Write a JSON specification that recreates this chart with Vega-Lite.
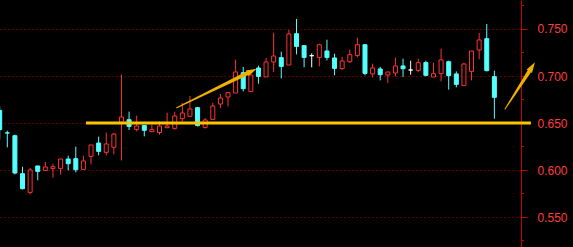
{
  "$schema": "https://vega.github.io/schema/vega-lite/v6.json",
  "width": 521,
  "height": 247,
  "autosize": {"type": "none"},
  "padding": {"left": 0, "top": 0, "right": 52, "bottom": 0},
  "background": "#000000",
  "config": {"view": {"stroke": null}},
  "datasets": {
    "candles": [
      {"i":0,"o":0.6634,"h":0.6677,"l":0.6323,"c":0.6429},
      {"i":1,"o":0.6395,"h":0.6418,"l":0.6241,"c":0.6393},
      {"i":2,"o":0.6365,"h":0.6376,"l":0.5953,"c":0.5968},
      {"i":3,"o":0.5961,"h":0.6035,"l":0.5794,"c":0.5801},
      {"i":4,"o":0.5762,"h":0.6022,"l":0.5741,"c":0.6000},
      {"i":5,"o":0.6043,"h":0.6043,"l":0.5890,"c":0.5985},
      {"i":6,"o":0.5996,"h":0.6085,"l":0.5996,"c":0.6032},
      {"i":7,"o":0.6017,"h":0.6067,"l":0.5918,"c":0.6035},
      {"i":8,"o":0.6017,"h":0.6117,"l":0.5953,"c":0.6117},
      {"i":9,"o":0.6117,"h":0.6152,"l":0.5996,"c":0.6067},
      {"i":10,"o":0.6121,"h":0.6248,"l":0.5975,"c":0.6003},
      {"i":11,"o":0.6007,"h":0.6152,"l":0.6007,"c":0.6096},
      {"i":12,"o":0.6145,"h":0.6266,"l":0.6060,"c":0.6266},
      {"i":13,"o":0.6287,"h":0.6355,"l":0.6156,"c":0.6198},
      {"i":14,"o":0.6188,"h":0.6397,"l":0.6156,"c":0.6277},
      {"i":15,"o":0.6241,"h":0.6394,"l":0.6166,"c":0.6383},
      {"i":16,"o":0.6507,"h":0.7014,"l":0.6102,"c":0.6564},
      {"i":17,"o":0.6535,"h":0.6621,"l":0.6426,"c":0.6464},
      {"i":18,"o":0.6432,"h":0.6578,"l":0.6411,"c":0.6468},
      {"i":19,"o":0.6475,"h":0.6475,"l":0.6358,"c":0.6422},
      {"i":20,"o":0.6408,"h":0.6482,"l":0.6408,"c":0.6429},
      {"i":21,"o":0.6400,"h":0.6517,"l":0.6376,"c":0.6468},
      {"i":22,"o":0.6450,"h":0.6610,"l":0.6450,"c":0.6468},
      {"i":23,"o":0.6443,"h":0.6621,"l":0.6429,"c":0.6575},
      {"i":24,"o":0.6546,"h":0.6713,"l":0.6517,"c":0.6607},
      {"i":25,"o":0.6571,"h":0.6788,"l":0.6571,"c":0.6649},
      {"i":26,"o":0.6663,"h":0.6671,"l":0.6464,"c":0.6472},
      {"i":27,"o":0.6453,"h":0.6553,"l":0.6440,"c":0.6532},
      {"i":28,"o":0.6539,"h":0.6713,"l":0.6539,"c":0.6681},
      {"i":29,"o":0.6702,"h":0.6809,"l":0.6660,"c":0.6766},
      {"i":30,"o":0.6777,"h":0.6830,"l":0.6677,"c":0.6823},
      {"i":31,"o":0.6819,"h":0.7174,"l":0.6819,"c":0.7043},
      {"i":32,"o":0.7035,"h":0.7096,"l":0.6836,"c":0.6865},
      {"i":33,"o":0.6836,"h":0.7011,"l":0.6836,"c":0.7011},
      {"i":34,"o":0.7085,"h":0.7110,"l":0.6918,"c":0.6996},
      {"i":35,"o":0.6990,"h":0.7192,"l":0.6990,"c":0.7149},
      {"i":36,"o":0.7149,"h":0.7461,"l":0.7043,"c":0.7213},
      {"i":37,"o":0.7195,"h":0.7259,"l":0.6975,"c":0.7102},
      {"i":38,"o":0.7117,"h":0.7490,"l":0.7117,"c":0.7447},
      {"i":39,"o":0.7450,"h":0.7607,"l":0.7230,"c":0.7315},
      {"i":40,"o":0.7323,"h":0.7323,"l":0.7092,"c":0.7198},
      {"i":41,"o":0.7216,"h":0.7241,"l":0.7092,"c":0.7216},
      {"i":42,"o":0.7198,"h":0.7344,"l":0.7102,"c":0.7333},
      {"i":43,"o":0.7266,"h":0.7386,"l":0.7166,"c":0.7198},
      {"i":44,"o":0.7192,"h":0.7238,"l":0.7007,"c":0.7081},
      {"i":45,"o":0.7078,"h":0.7202,"l":0.7067,"c":0.7160},
      {"i":46,"o":0.7152,"h":0.7280,"l":0.7139,"c":0.7227},
      {"i":47,"o":0.7219,"h":0.7408,"l":0.7198,"c":0.7333},
      {"i":48,"o":0.7333,"h":0.7333,"l":0.7007,"c":0.7028},
      {"i":49,"o":0.7022,"h":0.7131,"l":0.6985,"c":0.7085},
      {"i":50,"o":0.7075,"h":0.7096,"l":0.6953,"c":0.7014},
      {"i":51,"o":0.7011,"h":0.7043,"l":0.6926,"c":0.7043},
      {"i":52,"o":0.7032,"h":0.7195,"l":0.6996,"c":0.7107},
      {"i":53,"o":0.7107,"h":0.7184,"l":0.6990,"c":0.7078},
      {"i":54,"o":0.7064,"h":0.7163,"l":0.7014,"c":0.7064},
      {"i":55,"o":0.7060,"h":0.7184,"l":0.7039,"c":0.7142},
      {"i":56,"o":0.7142,"h":0.7163,"l":0.6996,"c":0.7007},
      {"i":57,"o":0.6989,"h":0.7142,"l":0.6989,"c":0.7025},
      {"i":58,"o":0.7025,"h":0.7291,"l":0.6943,"c":0.7171},
      {"i":59,"o":0.7152,"h":0.7163,"l":0.6855,"c":0.7003},
      {"i":60,"o":0.7022,"h":0.7049,"l":0.6879,"c":0.6911},
      {"i":61,"o":0.6900,"h":0.7139,"l":0.6900,"c":0.7128},
      {"i":62,"o":0.7049,"h":0.7266,"l":0.6953,"c":0.7266},
      {"i":63,"o":0.7277,"h":0.7458,"l":0.7177,"c":0.7383},
      {"i":64,"o":0.7397,"h":0.7553,"l":0.7049,"c":0.7057},
      {"i":65,"o":0.6993,"h":0.7057,"l":0.6546,"c":0.6773}
    ],
    "levels": [{"x":11.34,"x2":69.8,"price":0.65}],
    "minor": [{"v":0.525},{"v":0.575},{"v":0.625},{"v":0.675},{"v":0.725},{"v":0.775}],
    "arrows": [
      {"arrow":1,"part":"tail","x":23.26,"y":0.6663},
      {"arrow":1,"part":"head","x":32.83,"y":0.7041},
      {"arrow":2,"part":"tail","x":66.40,"y":0.6649},
      {"arrow":2,"part":"head","x":69.78,"y":0.7074}
    ],
    "tips": [
      {"arrow":1,"x":33.77,"y":0.7078},
      {"arrow":2,"x":70.34,"y":0.7145}
    ]
  },
  "layer": [
    {
      "data": {"name": "candles"},
      "mark": {"type": "rule", "strokeWidth": 1},
      "encoding": {
        "x": {"field": "i", "type": "quantitative", "scale": {"domain": [0.04, 68.5], "nice": false, "zero": false, "padding": 0}, "axis": null},
        "y": {"field": "l", "type": "quantitative", "title": null, "scale": {"domain": [0.51809, 0.78085], "nice": false, "zero": false, "padding": 0},
          "axis": {
            "orient": "right", "title": null,
            "values": [0.55, 0.6, 0.65, 0.7, 0.75],
            "format": ".3f",
            "domainColor": "#C80000", "domainWidth": 1,
            "tickColor": "#C80000", "tickWidth": 1, "tickSize": 6,
            "grid": true, "gridColor": "#B40000", "gridDash": [1, 3], "gridWidth": 1,
            "labelColor": "#FF3C3C", "labelFont": "Liberation Sans", "labelFontSize": 12,
            "labelPadding": 10, "labelFlush": false, "labelOverlap": false
          }},
        "y2": {"field": "h"},
        "stroke": {"condition": [
          {"test": "datum.c > datum.o", "value": "#FF3232"},
          {"test": "datum.c < datum.o", "value": "#54FFFF"}], "value": "#FFFFFF"}
      }
    },
    {
      "data": {"name": "candles"},
      "mark": {"type": "bar", "width": 4, "strokeWidth": 1},
      "encoding": {
        "x": {"field": "i", "type": "quantitative"},
        "y": {"field": "o", "type": "quantitative", "title": null},
        "y2": {"field": "c"},
        "fill": {"condition": [
          {"test": "datum.c > datum.o", "value": "#000000"},
          {"test": "datum.c < datum.o", "value": "#54FFFF"}], "value": "#FFFFFF"},
        "stroke": {"condition": [
          {"test": "datum.c > datum.o", "value": "#FF3232"},
          {"test": "datum.c < datum.o", "value": "#54FFFF"}], "value": "#FFFFFF"}
      }
    },
    {
      "data": {"name": "minor"},
      "mark": {"type": "rule", "color": "#C80000", "strokeWidth": 1},
      "encoding": {
        "x": {"datum": 68.5},
        "x2": {"datum": 68.9},
        "y": {"field": "v", "type": "quantitative", "title": null}
      }
    },
    {
      "data": {"name": "levels"},
      "mark": {"type": "rule", "color": "#FFC400", "strokeWidth": 3},
      "encoding": {
        "x": {"field": "x", "type": "quantitative"},
        "x2": {"field": "x2"},
        "y": {"field": "price", "type": "quantitative", "title": null}
      }
    },
    {
      "data": {"name": "arrows"},
      "mark": {"type": "trail", "color": "#F0B000"},
      "encoding": {
        "x": {"field": "x", "type": "quantitative"},
        "y": {"field": "y", "type": "quantitative", "title": null},
        "detail": {"field": "arrow", "type": "nominal"},
        "order": {"field": "x", "type": "quantitative"},
        "size": {"field": "part", "type": "ordinal", "scale": {"domain": ["tail", "head"], "range": [1, 4]}, "legend": null}
      }
    },
    {
      "data": {"name": "tips"},
      "mark": {"type": "point", "shape": "M0,0L-2,-0.6L-2,0.6Z", "filled": true, "color": "#F0B000", "opacity": 1, "size": 110},
      "encoding": {
        "x": {"field": "x", "type": "quantitative"},
        "y": {"field": "y", "type": "quantitative", "title": null},
        "angle": {"condition": {"test": "datum.arrow == 1", "value": 334}, "value": 303}
      }
    }
  ]
}
